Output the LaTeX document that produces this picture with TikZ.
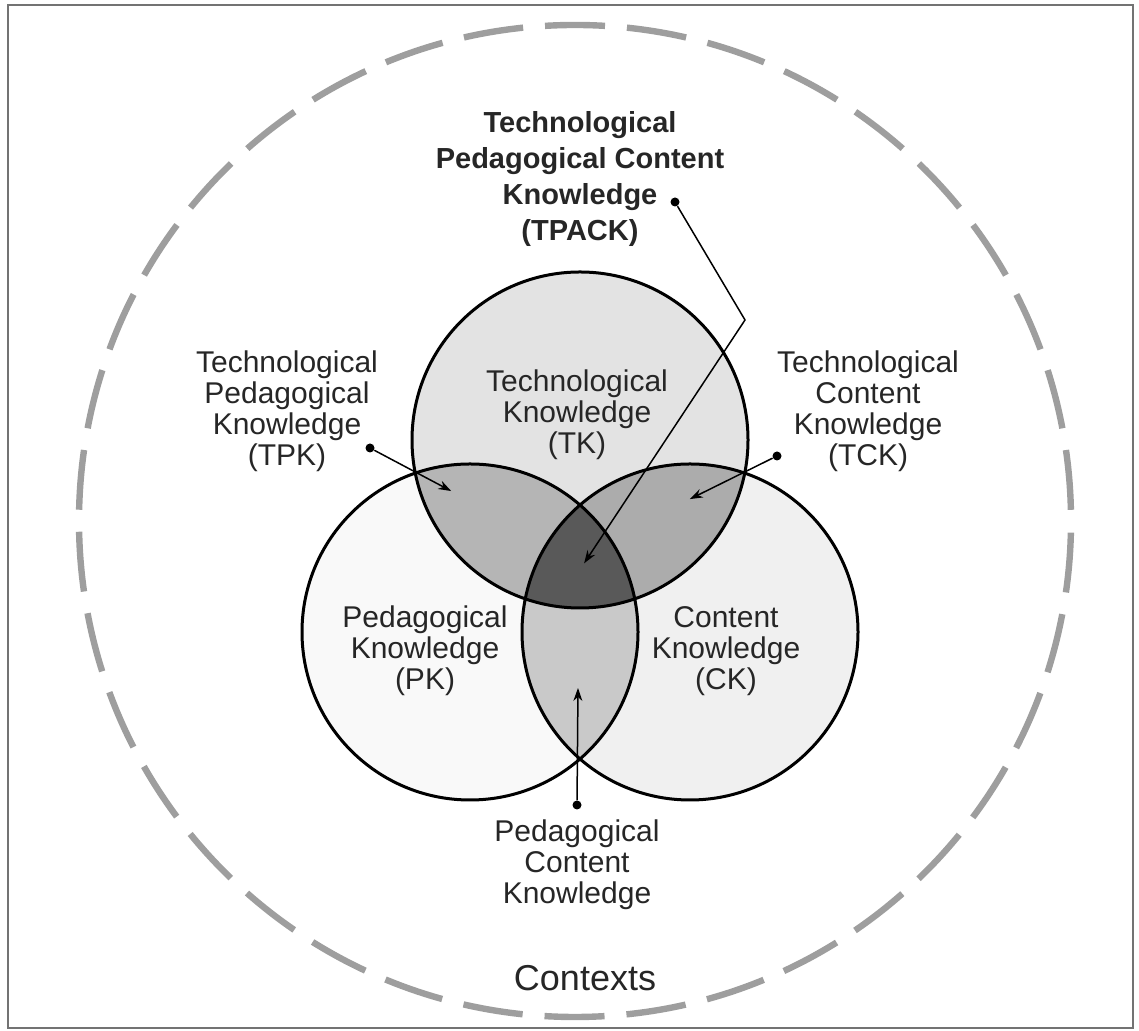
\documentclass[tikz,border=0pt]{standalone}
\usepackage{fontspec}
\setmainfont{Liberation Sans}
\usetikzlibrary{arrows.meta}

\definecolor{tkgray}{gray}{0.89}
\definecolor{pkgray}{gray}{0.975}
\definecolor{ckgray}{gray}{0.94}
\definecolor{pairgray}{gray}{0.71}
\definecolor{pckgray}{gray}{0.79}
\definecolor{tpackgray}{gray}{0.35}
\definecolor{ctxgray}{gray}{0.62}
\definecolor{framegray}{gray}{0.45}
\definecolor{inkgray}{gray}{0.15}

\begin{document}
\begin{tikzpicture}[x=0.5pt,y=0.5pt,>={Stealth[length=6.5pt,width=4.5pt]},
  lbl/.style={align=center,text=inkgray,font=\fontsize{15}{15.5}\selectfont},
  dot/.style={circle,fill=black,inner sep=0pt,minimum size=4.5pt},
  ring/.style={line width=1.5pt},
  conn/.style={line width=0.75pt,shorten >=1pt}]

  \useasboundingbox (0,0) rectangle (1139,1031);
  \draw[framegray, line width=1pt] (8,3) rectangle (1133,1026);

  % contexts ring
  \draw[ctxgray, line width=3.2pt, dash pattern=on 30pt off 11pt, dash phase=35.4pt]
    (575,510) circle [radius=248pt];

  \coordinate (tk) at (580,591);
  \coordinate (pk) at (470,399);
  \coordinate (ck) at (690,399);

  % the three circles and their overlaps
  \fill[tkgray] (tk) circle [radius=84pt];
  \fill[pkgray] (pk) circle [radius=84pt];
  \fill[ckgray] (ck) circle [radius=84pt];
  \begin{scope}
    \clip (tk) circle [radius=84pt];
    \fill[pairgray] (pk) circle [radius=84pt];
    \fill[pairgray!95!black] (ck) circle [radius=84pt];
  \end{scope}
  \begin{scope}
    \clip (pk) circle [radius=84pt];
    \fill[pckgray] (ck) circle [radius=84pt];
  \end{scope}
  \begin{scope}
    \clip (tk) circle [radius=84pt];
    \clip (pk) circle [radius=84pt];
    \fill[tpackgray] (ck) circle [radius=84pt];
  \end{scope}
  \draw[ring] (tk) circle [radius=84pt];
  \draw[ring] (pk) circle [radius=84pt];
  \draw[ring] (ck) circle [radius=84pt];

  % labels
  \node[lbl] (tklbl) at (577,616) {Technological\\Knowledge\\(TK)};
  \node[lbl] (pklbl) at (425,380) {Pedagogical\\Knowledge\\(PK)};
  \node[lbl] (cklbl) at (726,380) {Content\\Knowledge\\(CK)};
  \node[lbl] (tpklbl) at (287,620) {Technological\\Pedagogical\\Knowledge\\(TPK)};
  \node[lbl] (tcklbl) at (868,620) {Technological\\Content\\Knowledge\\(TCK)};
  \node[lbl] (pcklbl) at (577,166) {Pedagogical\\Content\\Knowledge};
  \node[align=center,text=inkgray,font=\fontsize{14.5}{18}\selectfont\bfseries] (tpacklbl) at (580,852)
    {Technological\\Pedagogical Content\\Knowledge\\(TPACK)};
  \node[text=inkgray,font=\fontsize{18}{20}\selectfont] (ctx) at (585,53) {Contexts};

  % pointers
  \node[dot] (tpackdot) at (675,829) {};
  \node[dot] (tpkdot) at (370,583) {};
  \node[dot] (tckdot) at (777,575) {};
  \node[dot] (pckdot) at (577,226) {};
  \coordinate (bend) at (745,711);
  \coordinate (tpacktip) at (583,466);
  \coordinate (tpktip) at (453,539);
  \coordinate (tcktip) at (688,531);
  \coordinate (pcktip) at (578,345);

  \draw[conn,->] (tpackdot) -- (bend) -- (tpacktip);
  \path[conn,->]
    (tpkdot) edge (tpktip)
    (tckdot) edge (tcktip)
    (pckdot) edge (pcktip);
\end{tikzpicture}
\end{document}
